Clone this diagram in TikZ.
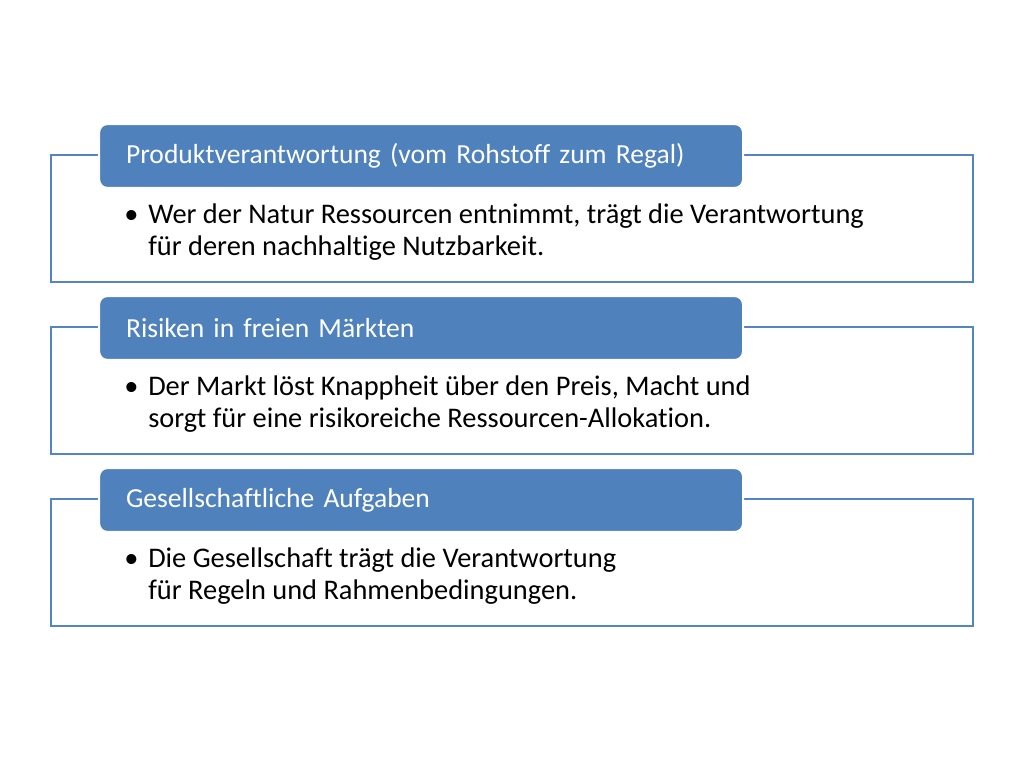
\documentclass[tikz,border=0pt]{standalone}
\usepackage{fontspec}
\setmainfont{Carlito}[RawFeature=-liga]
\definecolor{headblue}{HTML}{4F81BD}
\definecolor{lineblue}{HTML}{5485C0}

\begin{document}
\begin{tikzpicture}[x=0.025cm,y=-0.025cm,
  panel/.style={draw=lineblue, line width=1.6pt, minimum width=922*0.025cm, minimum height=127*0.025cm, inner sep=0pt},
  header/.style={fill=headblue, draw=white, line width=1.5pt, rounded corners=6pt, text=white, anchor=west, minimum width=644*0.025cm, minimum height=64*0.025cm, inner xsep=27*0.025cm, inner ysep=0pt, text width=644*0.025cm-54*0.025cm, align=left, font=\fontsize{19.6}{22}\selectfont},
  bodytext/.style={anchor=north west, inner sep=0pt, align=left, font=\fontsize{20.2}{22.8}\selectfont}]
\useasboundingbox (0,0) rectangle (1024,768);

% Produktverantwortung
\node[panel] (box1) at (512,218.5) {};
\node[header] (head1) at (98,156) {Produktverantwortung (vom Rohstoff zum Regal)};
\node[bodytext] (text1) at (124,201) {\begin{tabular}{@{}l@{\hspace{7pt}}l@{}}\textbullet & Wer der Natur Ressourcen entnimmt, trägt die Verantwortung\\ & für deren nachhaltige Nutzbarkeit.\end{tabular}};

% Risiken
\node[panel] (box2) at (512,390.5) {};
\node[header] (head2) at (98,328) {Risiken in freien Märkten};
\node[bodytext] (text2) at (124,373) {\begin{tabular}{@{}l@{\hspace{7pt}}l@{}}\textbullet & Der Markt löst Knappheit über den Preis, Macht und\\ & sorgt für eine risikoreiche Ressourcen-Allokation.\end{tabular}};

% Gesellschaft
\node[panel] (box3) at (512,562.5) {};
\node[header] (head3) at (98,500) {Gesellschaftliche Aufgaben};
\node[bodytext] (text3) at (124,545) {\begin{tabular}{@{}l@{\hspace{7pt}}l@{}}\textbullet & Die Gesellschaft trägt die Verantwortung\\ & für Regeln und Rahmenbedingungen.\end{tabular}};
\end{tikzpicture}
\end{document}
